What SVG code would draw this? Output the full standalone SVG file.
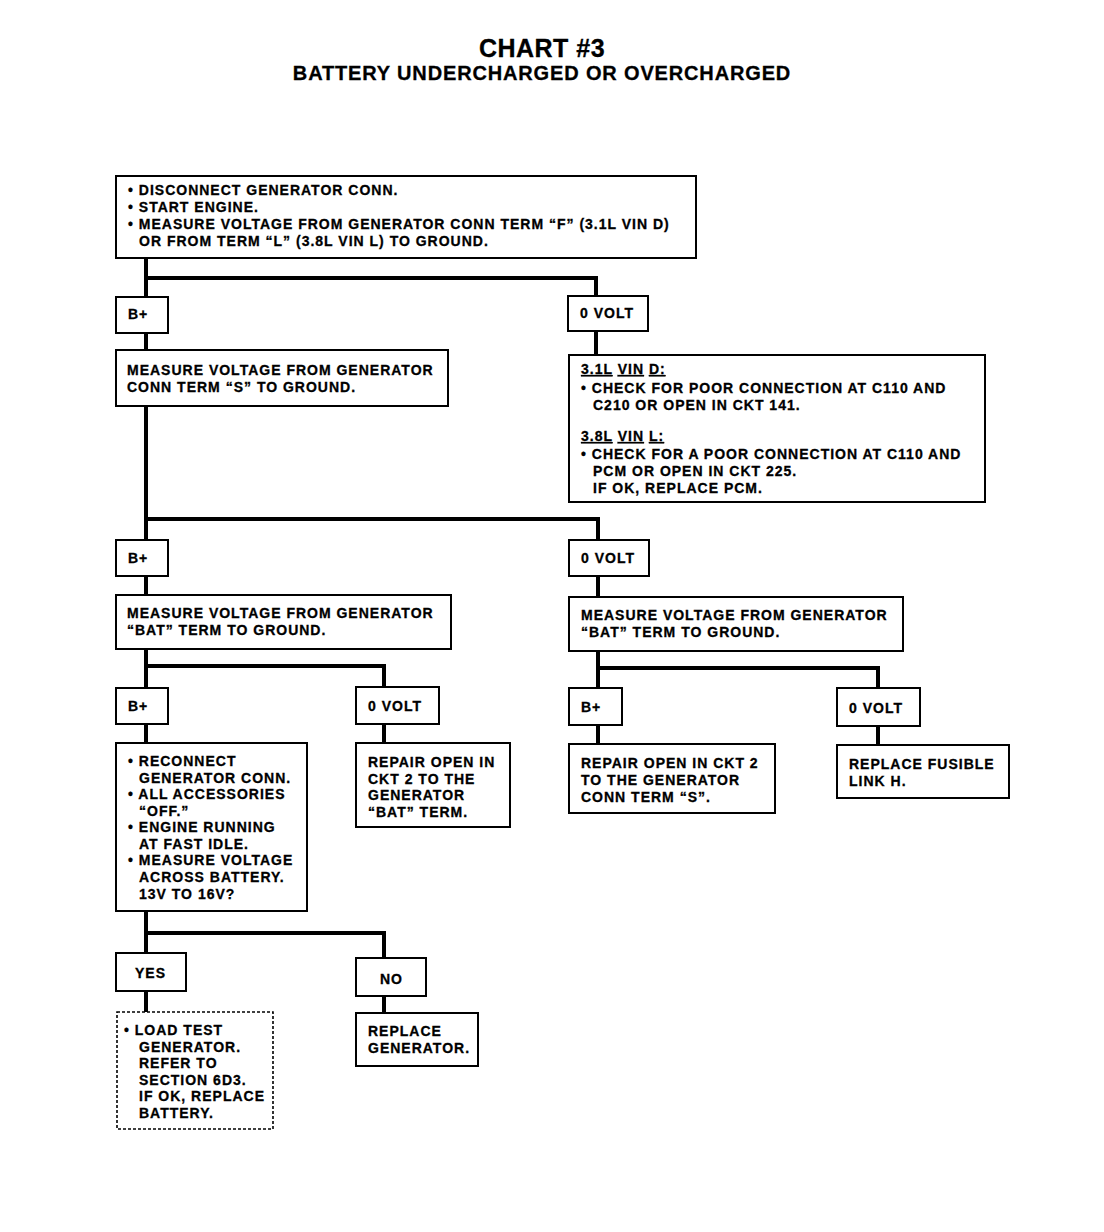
<svg xmlns="http://www.w3.org/2000/svg" width="1104" height="1232" viewBox="0 0 1104 1232">
<style>
.bx{fill:#fff;stroke:#000;stroke-width:2}
.dbx{fill:#fff;stroke:#000;stroke-width:1.6;stroke-dasharray:3 2}
.cn{fill:none;stroke:#000;stroke-width:4;stroke-linecap:square;stroke-linejoin:miter}
text{font-family:"Liberation Sans",Arial,Helvetica,sans-serif;font-weight:bold;font-size:14px;letter-spacing:1px;fill:#000;stroke:#000;stroke-width:0.3}
.t1{font-size:25px;letter-spacing:0.5px}
.t2{font-size:20px;letter-spacing:0.85px}
.u{text-decoration:underline}
</style>
<rect width="1104" height="1232" fill="#fff"/>
<g id="title">
<text class="t1" x="542" y="57" text-anchor="middle">CHART #3</text>
<text class="t2" x="542" y="80" text-anchor="middle">BATTERY UNDERCHARGED OR OVERCHARGED</text>
</g>
<g id="connectors">
<polyline class="cn" points="146,258 146,297"/>
<polyline class="cn" points="146,278 596,278 596,296"/>
<polyline class="cn" points="146,333 146,350"/>
<polyline class="cn" points="596,331 596,355"/>
<polyline class="cn" points="146,406 146,540"/>
<polyline class="cn" points="146,519 598,519 598,540"/>
<polyline class="cn" points="146,576 146,595"/>
<polyline class="cn" points="598,576 598,597"/>
<polyline class="cn" points="146,649 146,688"/>
<polyline class="cn" points="146,666 384,666 384,687"/>
<polyline class="cn" points="598,651 598,688"/>
<polyline class="cn" points="598,668 878,668 878,688"/>
<polyline class="cn" points="146,724 146,743"/>
<polyline class="cn" points="384,724 384,743"/>
<polyline class="cn" points="598,725 598,744"/>
<polyline class="cn" points="878,726 878,745"/>
<polyline class="cn" points="146,911 146,953"/>
<polyline class="cn" points="146,933 384,933 384,958"/>
<polyline class="cn" points="146,991 146,1012"/>
<polyline class="cn" points="384,996 384,1013"/>
</g>
<g id="n_start">
<rect class="bx" x="116" y="176" width="580" height="82"/>
<text x="128" y="195">• DISCONNECT GENERATOR CONN.</text>
<text x="128" y="212">• START ENGINE.</text>
<text x="128" y="229">• MEASURE VOLTAGE FROM GENERATOR CONN TERM “F” (3.1L VIN D)</text>
<text x="139" y="246">OR FROM TERM “L” (3.8L VIN L) TO GROUND.</text>
</g>
<g id="n_bplus1">
<rect class="bx" x="116" y="297" width="52" height="36"/>
<text x="128" y="319">B+</text>
</g>
<g id="n_zero1">
<rect class="bx" x="568" y="296" width="80" height="35"/>
<text x="580" y="318">0 VOLT</text>
</g>
<g id="n_measS">
<rect class="bx" x="116" y="350" width="332" height="56"/>
<text x="127" y="375">MEASURE VOLTAGE FROM GENERATOR</text>
<text x="127" y="392">CONN TERM “S” TO GROUND.</text>
</g>
<g id="n_check">
<rect class="bx" x="569" y="355" width="416" height="147"/>
<text x="581" y="374"><tspan class="u">3.1L</tspan> <tspan class="u">VIN</tspan> <tspan class="u">D:</tspan></text>
<text x="581" y="393">• CHECK FOR POOR CONNECTION AT C110 AND</text>
<text x="593" y="410">C210 OR OPEN IN CKT 141.</text>
<text x="581" y="441"><tspan class="u">3.8L</tspan> <tspan class="u">VIN</tspan> <tspan class="u">L:</tspan></text>
<text x="581" y="459">• CHECK FOR A POOR CONNECTION AT C110 AND</text>
<text x="593" y="476">PCM OR OPEN IN CKT 225.</text>
<text x="593" y="493">IF OK, REPLACE PCM.</text>
</g>
<g id="n_bplus2">
<rect class="bx" x="116" y="540" width="52" height="36"/>
<text x="128" y="563">B+</text>
</g>
<g id="n_zero2">
<rect class="bx" x="569" y="540" width="80" height="36"/>
<text x="581" y="563">0 VOLT</text>
</g>
<g id="n_batL">
<rect class="bx" x="116" y="595" width="335" height="54"/>
<text x="127" y="618">MEASURE VOLTAGE FROM GENERATOR</text>
<text x="127" y="635">“BAT” TERM TO GROUND.</text>
</g>
<g id="n_batR">
<rect class="bx" x="569" y="597" width="334" height="54"/>
<text x="581" y="620">MEASURE VOLTAGE FROM GENERATOR</text>
<text x="581" y="637">“BAT” TERM TO GROUND.</text>
</g>
<g id="n_bplus3L">
<rect class="bx" x="116" y="688" width="52" height="36"/>
<text x="128" y="711">B+</text>
</g>
<g id="n_zero3L">
<rect class="bx" x="356" y="687" width="83" height="37"/>
<text x="368" y="711">0 VOLT</text>
</g>
<g id="n_bplus3R">
<rect class="bx" x="569" y="688" width="53" height="37"/>
<text x="581" y="712">B+</text>
</g>
<g id="n_zero3R">
<rect class="bx" x="837" y="688" width="83" height="38"/>
<text x="849" y="713">0 VOLT</text>
</g>
<g id="n_reconnect">
<rect class="bx" x="116" y="743" width="191" height="168"/>
<text x="128" y="766">• RECONNECT</text>
<text x="139" y="783">GENERATOR CONN.</text>
<text x="128" y="799">• ALL ACCESSORIES</text>
<text x="139" y="816">“OFF.”</text>
<text x="128" y="832">• ENGINE RUNNING</text>
<text x="139" y="849">AT FAST IDLE.</text>
<text x="128" y="865">• MEASURE VOLTAGE</text>
<text x="139" y="882">ACROSS BATTERY.</text>
<text x="139" y="899">13V TO 16V?</text>
</g>
<g id="n_repairBat">
<rect class="bx" x="356" y="743" width="154" height="84"/>
<text x="368" y="767">REPAIR OPEN IN</text>
<text x="368" y="784">CKT 2 TO THE</text>
<text x="368" y="800">GENERATOR</text>
<text x="368" y="817">“BAT” TERM.</text>
</g>
<g id="n_repairS">
<rect class="bx" x="569" y="744" width="206" height="69"/>
<text x="581" y="768">REPAIR OPEN IN CKT 2</text>
<text x="581" y="785">TO THE GENERATOR</text>
<text x="581" y="802">CONN TERM “S”.</text>
</g>
<g id="n_fusible">
<rect class="bx" x="837" y="745" width="172" height="53"/>
<text x="849" y="769">REPLACE FUSIBLE</text>
<text x="849" y="786">LINK H.</text>
</g>
<g id="n_yes">
<rect class="bx" x="116" y="953" width="70" height="38"/>
<text x="135" y="978">YES</text>
</g>
<g id="n_no">
<rect class="bx" x="356" y="958" width="70" height="38"/>
<text x="380" y="984">NO</text>
</g>
<g id="n_loadtest">
<rect class="dbx" x="117" y="1012" width="156" height="117"/>
<text x="124" y="1035">• LOAD TEST</text>
<text x="139" y="1052">GENERATOR.</text>
<text x="139" y="1068">REFER TO</text>
<text x="139" y="1085">SECTION 6D3.</text>
<text x="139" y="1101">IF OK, REPLACE</text>
<text x="139" y="1118">BATTERY.</text>
</g>
<g id="n_replgen">
<rect class="bx" x="356" y="1013" width="122" height="53"/>
<text x="368" y="1036">REPLACE</text>
<text x="368" y="1053">GENERATOR.</text>
</g>
</svg>
